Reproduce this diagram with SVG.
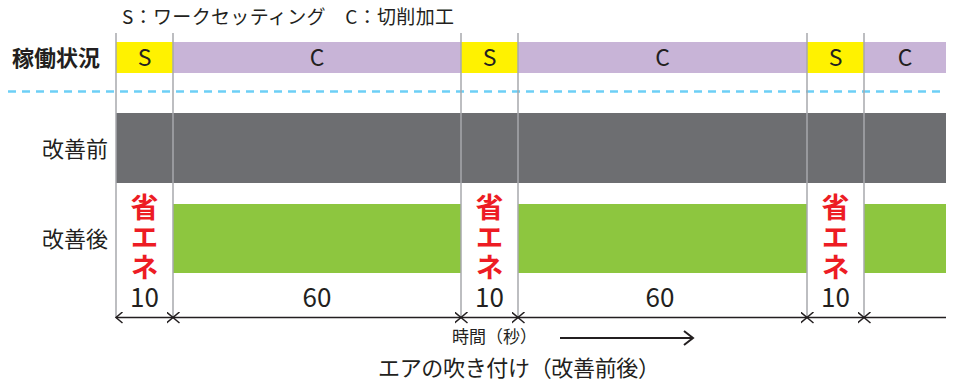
<svg xmlns="http://www.w3.org/2000/svg" width="953" height="382" viewBox="0 0 953 382">
<style>
text{font-family:"Noto Sans CJK JP","Noto Sans",sans-serif;fill:#231f20}
.lbl{font-size:22px}
.bar{font-size:23px;text-anchor:middle}
.num{font-size:26px;text-anchor:middle}
.eco{font-size:28px;font-weight:bold;fill:#ed1c24;writing-mode:vertical-rl;letter-spacing:2px}
.s{fill:#fff200}
.c{fill:#c8b4d7}
.g{fill:#8dc63f}
.vl{stroke:#a7a9ac;stroke-width:1.5}
</style>
<defs>
<marker id="chev" markerWidth="10" markerHeight="12" refX="6.5" refY="6" orient="auto-start-reverse" markerUnits="userSpaceOnUse">
<path d="M0,0.5 L6.5,6 L0,11.5" fill="none" stroke="#231f20" stroke-width="1.5"/>
</marker>
<marker id="arr" markerWidth="16" markerHeight="16" refX="13" refY="8" orient="auto" markerUnits="userSpaceOnUse">
<path d="M4,1 L13,8 L4,15" fill="none" stroke="#231f20" stroke-width="2"/>
</marker>
</defs>
<g id="legend"><text x="122" y="24" font-size="19" textLength="332" lengthAdjust="spacing">S：ワークセッティング　C：切削加工</text></g>
<g id="row-status">
<text x="12" y="66" class="lbl" font-weight="bold">稼働状況</text>
<rect class="s" x="116" y="42" width="57" height="31"/>
<rect class="c" x="173" y="42" width="288" height="31"/>
<rect class="s" x="461" y="42" width="57" height="31"/>
<rect class="c" x="518" y="42" width="289" height="31"/>
<rect class="s" x="807" y="42" width="57" height="31"/>
<rect class="c" x="864" y="42" width="82" height="31"/>
<text class="bar" x="144.5" y="66">S</text>
<text class="bar" x="317" y="66">C</text>
<text class="bar" x="489.5" y="66">S</text>
<text class="bar" x="662.5" y="66">C</text>
<text class="bar" x="835.5" y="66">S</text>
<text class="bar" x="905" y="66">C</text>
</g>
<line x1="8" y1="91.5" x2="946" y2="91.5" stroke="#6dcff6" stroke-width="2.5" stroke-dasharray="8,6"/>
<g id="row-before">
<text x="42" y="157" class="lbl">改善前</text>
<rect x="116" y="113" width="830" height="70" fill="#6d6e71"/>
</g>
<g id="row-after">
<text x="42" y="247" class="lbl">改善後</text>
<rect class="g" x="173" y="204" width="288" height="69"/>
<rect class="g" x="518" y="204" width="289" height="69"/>
<rect class="g" x="864" y="204" width="82" height="69"/>
<text class="eco" x="144.5" y="193">省エネ</text>
<text class="eco" x="489.5" y="193">省エネ</text>
<text class="eco" x="835.5" y="193">省エネ</text>
</g>
<g id="durations">
<text class="num" x="144.5" y="307">10</text>
<text class="num" x="317" y="307">60</text>
<text class="num" x="489.5" y="307">10</text>
<text class="num" x="660" y="307">60</text>
<text class="num" x="835.5" y="307">10</text>
</g>
<g id="connectors">
<line class="vl" x1="116" y1="33" x2="116" y2="318"/>
<line class="vl" x1="173" y1="33" x2="173" y2="318"/>
<line class="vl" x1="461" y1="33" x2="461" y2="318"/>
<line class="vl" x1="518" y1="33" x2="518" y2="318"/>
<line class="vl" x1="807" y1="33" x2="807" y2="318"/>
<line class="vl" x1="864" y1="33" x2="864" y2="318"/>
<g stroke="#231f20" stroke-width="1.5">
<line x1="116" y1="317.5" x2="173" y2="317.5" marker-start="url(#chev)" marker-end="url(#chev)"/>
<line x1="173" y1="317.5" x2="461" y2="317.5" marker-start="url(#chev)" marker-end="url(#chev)"/>
<line x1="461" y1="317.5" x2="518" y2="317.5" marker-start="url(#chev)" marker-end="url(#chev)"/>
<line x1="518" y1="317.5" x2="807" y2="317.5" marker-start="url(#chev)" marker-end="url(#chev)"/>
<line x1="807" y1="317.5" x2="864" y2="317.5" marker-start="url(#chev)" marker-end="url(#chev)"/>
<line x1="864" y1="317.5" x2="946" y2="317.5" marker-start="url(#chev)"/>
<line x1="560" y1="338" x2="693" y2="338" stroke-width="2" marker-end="url(#arr)"/>
</g>
</g>
<g id="axis-labels">
<text x="452" y="343" font-size="17" textLength="85" lengthAdjust="spacing">時間（秒）</text>
<text x="378" y="376" font-size="22" textLength="282" lengthAdjust="spacing">エアの吹き付け（改善前後）</text>
</g>
</svg>
